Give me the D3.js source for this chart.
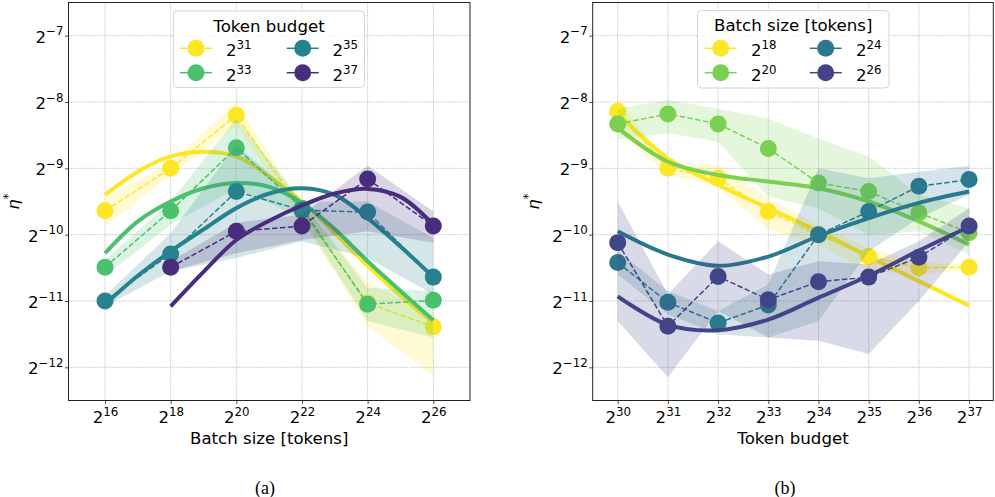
<!DOCTYPE html>
<html><head><meta charset="utf-8">
<script src="https://cdn.jsdelivr.net/npm/d3@7"></script>
<style>
body{margin:0;background:#fff}
svg{display:block}
text{font-family:"DejaVu Sans",sans-serif;fill:#000}
text.cap{font-family:"Liberation Serif","Times New Roman",serif}
</style>
</head><body>
<svg id="chart" width="995" height="497"></svg>
<script>
// ---------------- DATA (log2 exponents) ----------------
const yTickExps = [-12, -11, -10, -9, -8, -7];

// Panel (a): x = batch size exponent, series = token budget
const batchExps = [16, 18, 20, 22, 24, 26];
const batchTickExps = [16, 18, 20, 22, 24, 26];
const tokenBudgetLabels = [31, 33, 35, 37];
const colorsA = ["#fde725", "#4ac16d", "#26828e", "#472d7b"];

const meanA31 = [-9.64, -9.0, -8.2, -9.65, -11.03, -11.39];
const loA31   = [-9.88, -9.1, -8.35, -9.78, -11.38, -12.13];
const hiA31   = [-9.43, -8.92, -8.0, -9.55, -10.72, -11.22];

const meanA33 = [-10.49, -9.64, -8.69, -9.6, -11.05, -10.99];
const loA33   = [-10.62, -9.85, -9.3, -9.75, -11.3, -11.55];
const hiA33   = [-10.38, -9.5, -8.25, -9.5, -10.8, -10.85];

const meanA35 = [-11.0, -10.29, -9.35, -9.63, -9.66, -10.64];
const loA35   = [-11.08, -10.55, -10.35, -10.1, -10.35, -10.9];
const hiA35   = [-10.92, -9.98, -8.65, -9.5, -9.5, -10.05];

const meanA37 = [null, -10.49, -9.95, -9.87, -9.16, -9.87];
const loA37   = [null, -10.55, -10.28, -10.08, -9.95, -10.12];
const hiA37   = [null, -10.4, -9.82, -9.7, -8.96, -9.65];

const fitXA   = [16, 17, 18, 19, 20, 21, 22, 23, 24, 25, 26];
const fitA31  = [-9.40, -9.05, -8.82, -8.75, -8.82, -9.12, -9.50, -9.98, -10.47, -10.92, -11.33];
const fitA33  = [-10.28, -9.80, -9.50, -9.30, -9.22, -9.28, -9.52, -9.92, -10.40, -10.85, -11.29];
const fitA35  = [-11.05, -10.62, -10.25, -9.92, -9.60, -9.38, -9.30, -9.40, -9.75, -10.18, -10.64];
const fitA37  = [null, null, -11.08, -10.56, -10.08, -9.79, -9.56, -9.38, -9.31, -9.43, -9.85];

// Panel (b): x = token budget exponent, series = batch size
const tokenExps = [30, 31, 32, 33, 34, 35, 36, 37];
const tokenTickExps = [30, 31, 32, 33, 34, 35, 36, 37];
const batchSizeLabels = [18, 20, 24, 26];
const colorsB = ["#fde725", "#7ad151", "#2a788e", "#414487"];

const meanB18 = [-8.14, -9.0, -9.15, -9.65, -10.0, -10.33, -10.5, -10.49];
const loB18   = [-8.45, -9.1, -9.28, -9.92, -10.15, -10.55, -10.6, -10.53];
const hiB18   = [-7.98, -8.93, -8.95, -9.45, -9.85, -10.2, -10.42, -10.45];

const meanB20 = [-8.33, -8.18, -8.33, -8.70, -9.22, -9.35, -9.67, -9.97];
const loB20   = [-8.57, -8.47, -8.6, -9.43, -9.6, -10.0, -9.95, -10.3];
const hiB20   = [-8.1, -7.97, -8.1, -8.25, -8.55, -8.82, -9.4, -9.6];

const meanB24 = [-10.42, -11.02, -11.33, -11.06, -10.0, -9.65, -9.27, -9.17];
const loB24   = [-10.6, -11.2, -11.5, -11.55, -11.3, -10.25, -9.75, -9.4];
const hiB24   = [-10.25, -10.85, -11.15, -10.75, -9.0, -9.15, -9.05, -8.96];

const meanB26 = [-10.12, -11.38, -10.63, -10.98, -10.71, -10.64, -10.34, -9.87];
const loB26   = [-11.3, -12.15, -11.15, -11.55, -11.6, -11.8, -11.0, -10.1];
const hiB26   = [-9.5, -10.9, -10.1, -10.6, -10.4, -10.45, -10.1, -9.6];

const fitXB   = [30, 31, 32, 33, 34, 35, 36, 37];
const fitB18  = [-8.17, -8.85, -9.25, -9.60, -9.95, -10.33, -10.70, -11.07];
const fitB20  = [-8.39, -8.90, -9.10, -9.20, -9.30, -9.50, -9.80, -10.15];
const fitB24  = [-9.95, -10.30, -10.47, -10.33, -10.02, -9.75, -9.52, -9.35];
const fitB26  = [-10.93, -11.36, -11.44, -11.28, -10.95, -10.62, -10.24, -9.88];

// ---------------- DRAW ----------------
const svg = d3.select("#chart");
const FS = 16.6, SUP = 11.8, SUPDY = -7.2;

function sup(sel, base, exp) {
  sel.text(null);
  sel.append("tspan").text(base);
  sel.append("tspan").attr("dy", SUPDY).attr("font-size", SUP).text(exp);
}
const expStr = e => (e < 0 ? "\u2212" + Math.abs(e) : String(e));

function panel(cfg) {
  const g = svg.append("g");
  const x = d3.scaleLog().base(2).domain([2 ** cfg.xDom[0], 2 ** cfg.xDom[1]]).range([cfg.x0, cfg.x1]);
  const y = d3.scaleLog().base(2).domain([2 ** -12.5, 2 ** -6.5]).range([cfg.y1, cfg.y0]);

  // grid
  const grid = g.append("g").attr("stroke", "#b0b0b0").attr("stroke-width", 0.8).attr("stroke-dasharray", "1.2,1.2");
  cfg.xTicks.forEach(t => grid.append("line").attr("x1", x(2 ** t)).attr("x2", x(2 ** t)).attr("y1", cfg.y0).attr("y2", cfg.y1));
  yTickExps.forEach(t => grid.append("line").attr("y1", y(2 ** t)).attr("y2", y(2 ** t)).attr("x1", cfg.x0).attr("x2", cfg.x1));

  const clipId = "clip" + cfg.id;
  svg.append("clipPath").attr("id", clipId).append("rect")
    .attr("x", cfg.x0).attr("y", cfg.y0).attr("width", cfg.x1 - cfg.x0).attr("height", cfg.y1 - cfg.y0);
  const plot = g.append("g").attr("clip-path", `url(#${clipId})`);

  cfg.series.forEach((s, i) => {
    const col = cfg.colors[i];
    const pts = cfg.xs.map((xe, k) => ({ x: xe, m: s.mean[k], lo: s.lo[k], hi: s.hi[k] })).filter(d => d.m !== null);
    const area = d3.area().x(d => x(2 ** d.x)).y0(d => y(2 ** d.lo)).y1(d => y(2 ** d.hi));
    plot.append("path").attr("d", area(pts)).attr("fill", col).attr("fill-opacity", 0.2).attr("stroke", "none");
    const line = d3.line().x(d => x(2 ** d.x)).y(d => y(2 ** d.m));
    plot.append("path").attr("d", line(pts)).attr("fill", "none").attr("stroke", col)
      .attr("stroke-width", 1.5).attr("stroke-dasharray", "5.5,2.4");
    plot.selectAll(null).data(pts).enter().append("circle")
      .attr("cx", d => x(2 ** d.x)).attr("cy", d => y(2 ** d.m)).attr("r", 8.5).attr("fill", col);
    const fp = cfg.fitX.map((xe, k) => ({ x: xe, v: s.fit[k] })).filter(d => d.v !== null);
    const fl = d3.line().x(d => x(2 ** d.x)).y(d => y(2 ** d.v)).curve(d3.curveCatmullRom.alpha(0.5));
    plot.append("path").attr("d", fl(fp)).attr("fill", "none").attr("stroke", col).attr("stroke-width", 4);
  });

  // frame
  g.append("rect").attr("x", cfg.x0).attr("y", cfg.y0).attr("width", cfg.x1 - cfg.x0).attr("height", cfg.y1 - cfg.y0)
    .attr("fill", "none").attr("stroke", "#222").attr("stroke-width", 1);

  // axes
  const xa = g.append("g").attr("transform", `translate(0,${cfg.y1})`)
    .call(d3.axisBottom(x).tickValues(cfg.xTicks.map(t => 2 ** t)).tickSize(3.5).tickSizeOuter(0));
  xa.select(".domain").remove();
  xa.selectAll(".tick line").attr("stroke", "#222").attr("stroke-width", 0.8);
  xa.selectAll(".tick text").attr("font-size", FS).attr("fill", "#000")
    .attr("dy", null).attr("y", 22.5)
    .each(function (d) { sup(d3.select(this), "2", expStr(Math.round(Math.log2(d)))); });

  const ya = g.append("g").attr("transform", `translate(${cfg.x0},0)`)
    .call(d3.axisLeft(y).tickValues(yTickExps.map(t => 2 ** t)).tickSize(3.5).tickSizeOuter(0));
  ya.select(".domain").remove();
  ya.selectAll(".tick line").attr("stroke", "#222").attr("stroke-width", 0.8);
  ya.selectAll(".tick text").attr("font-size", FS).attr("fill", "#000")
    .attr("dy", null).attr("y", 6.5).attr("x", -5)
    .each(function (d) { sup(d3.select(this), "2", expStr(Math.round(Math.log2(d)))); });

  // axis labels
  g.append("text").attr("x", (cfg.x0 + cfg.x1) / 2).attr("y", 444).attr("text-anchor", "middle")
    .attr("font-size", FS).text(cfg.xLabel);
  const yl = g.append("text").attr("transform", `translate(${cfg.yLabelX},${(cfg.y0 + cfg.y1) / 2}) rotate(-90)`)
    .attr("text-anchor", "middle").attr("font-size", FS);
  yl.append("tspan").attr("font-style", "italic").text("\u03b7");
  yl.append("tspan").attr("dy", -7).attr("font-size", SUP).text("*");

  // sub caption
  svg.append("text").attr("class", "cap").attr("x", cfg.capX).attr("y", 494).attr("text-anchor", "middle")
    .attr("font-size", 18).text(cfg.caption);

  // legend
  const L = cfg.legend;
  const lg = g.append("g");
  lg.append("rect").attr("x", L.x).attr("y", L.y).attr("width", L.w).attr("height", L.h).attr("rx", 4)
    .attr("fill", "#fff").attr("fill-opacity", 0.8).attr("stroke", "#d5d5d5").attr("stroke-width", 1);
  lg.append("text").attr("x", L.x + L.w / 2).attr("y", L.y + 20.5).attr("text-anchor", "middle")
    .attr("font-size", FS).text(L.title);
  cfg.labels.forEach((lab, i) => {
    const col = Math.floor(i / 2), row = i % 2;
    const mx = L.mx[col], my = L.rows[row];
    const c = cfg.colors[i];
    lg.append("line").attr("x1", mx - 16).attr("x2", mx - 8).attr("y1", my).attr("y2", my).attr("stroke", c).attr("stroke-width", 1.5);
    lg.append("line").attr("x1", mx + 8).attr("x2", mx + 16).attr("y1", my).attr("y2", my).attr("stroke", c).attr("stroke-width", 1.5);
    lg.append("circle").attr("cx", mx).attr("cy", my).attr("r", 8.5).attr("fill", c);
    const t = lg.append("text").attr("x", L.tx[col]).attr("y", my + 8).attr("font-size", FS);
    sup(t, "2", String(lab));
  });
}

panel({
  id: "a", x0: 68.5, x1: 470, y0: 2.5, y1: 400.5, xDom: [14.888, 27.118],
  xTicks: batchTickExps, xs: batchExps, fitX: fitXA, colors: colorsA, labels: tokenBudgetLabels,
  series: [
    { mean: meanA31, lo: loA31, hi: hiA31, fit: fitA31 },
    { mean: meanA33, lo: loA33, hi: hiA33, fit: fitA33 },
    { mean: meanA35, lo: loA35, hi: hiA35, fit: fitA35 },
    { mean: meanA37, lo: loA37, hi: hiA37, fit: fitA37 }
  ],
  xLabel: "Batch size [tokens]", yLabelX: 19, capX: 265, caption: "(a)",
  legend: { x: 173.5, y: 11, w: 191, h: 76.5, title: "Token budget", mx: [196, 302.7], tx: [226, 332.5], rows: [48.3, 72.7] }
});

panel({
  id: "b", x0: 592.7, x1: 993.3, y0: 2.5, y1: 400.5, xDom: [29.502, 37.482],
  xTicks: tokenTickExps, xs: tokenExps, fitX: fitXB, colors: colorsB, labels: batchSizeLabels,
  series: [
    { mean: meanB18, lo: loB18, hi: hiB18, fit: fitB18 },
    { mean: meanB20, lo: loB20, hi: hiB20, fit: fitB20 },
    { mean: meanB24, lo: loB24, hi: hiB24, fit: fitB24 },
    { mean: meanB26, lo: loB26, hi: hiB26, fit: fitB26 }
  ],
  xLabel: "Token budget", yLabelX: 539, capX: 785, caption: "(b)",
  legend: { x: 697.5, y: 10.5, w: 191.5, h: 77.5, title: "Batch size [tokens]", mx: [720.7, 825.7], tx: [751, 856], rows: [48.3, 72.7] }
});
</script>
</body></html>
